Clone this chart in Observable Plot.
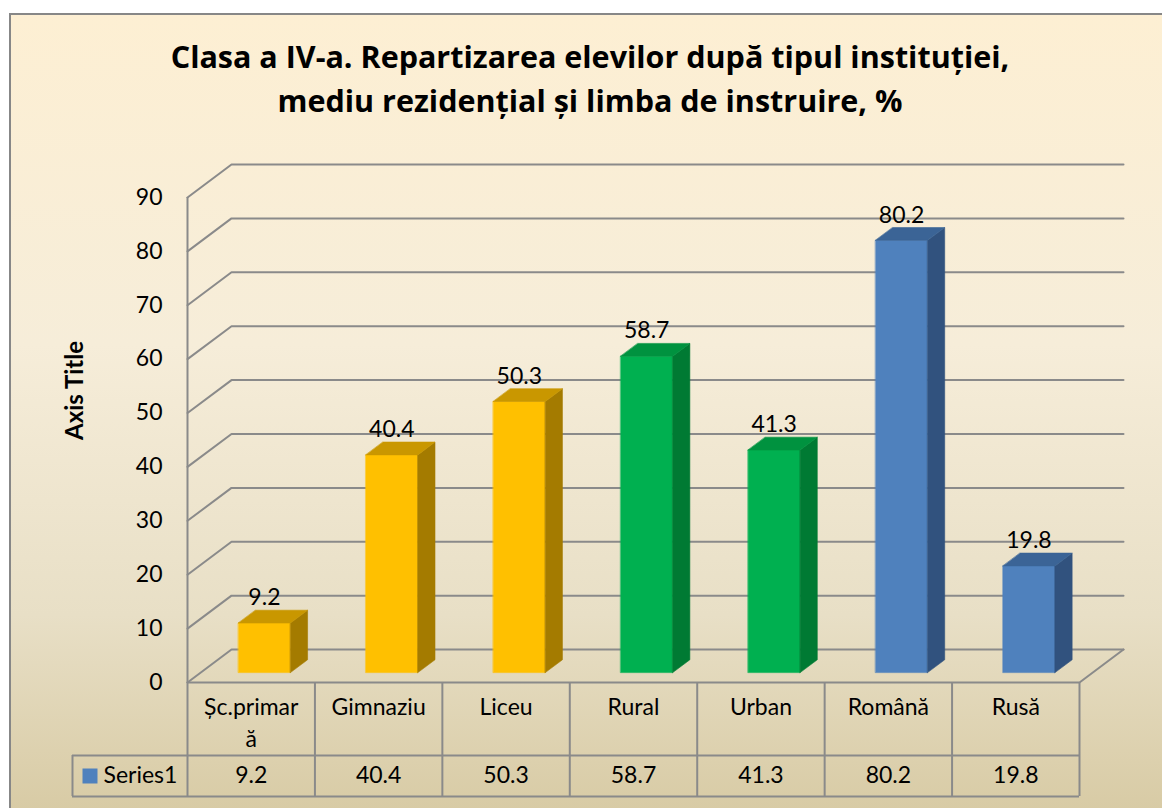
<!DOCTYPE html>
<html>
<head>
<meta charset="utf-8">
<script src="https://cdn.jsdelivr.net/npm/d3@7"></script>
<script src="https://cdn.jsdelivr.net/npm/@observablehq/plot@0.6"></script>
<style>
  html, body { margin: 0; padding: 0; width: 1162px; height: 808px; overflow: hidden; background: #ffffff; font-family: Lato, "Open Sans", sans-serif; }
  #frame { position: absolute; left: 9px; top: 13px; width: 1200px; height: 830px;
    border-left: 2px solid #878787; border-top: 2px solid #878787;
    background: linear-gradient(to bottom, #FDEFD3 0px, #F6EDD9 330px, #E8DFC6 600px, #D8CBA5 795px); }
  #title { position: absolute; left: 0; top: 34px; width: 1180px; text-align: center;
    font-family: "Open Sans", Lato, sans-serif; font-weight: bold; font-size: 30.5px; line-height: 44px; color: #000; }
  #chart { position: absolute; left: 0; top: 0; }
</style>
</head>
<body>
<div id="frame"></div>
<div id="title">Clasa a IV-a. Repartizarea elevilor după tipul instituției,<br>mediu rezidențial și limba de instruire, %</div>
<div id="chart"></div>
<script>
// ---- data ----
const categories = ["Șc.primară", "Gimnaziu", "Liceu", "Rural", "Urban", "Română", "Rusă"];
const tableLabels = ["Șc.primar\nă", "Gimnaziu", "Liceu", "Rural", "Urban", "Română", "Rusă"];
const values = [9.2, 40.4, 50.3, 58.7, 41.3, 80.2, 19.8];
const groups = ["tip", "tip", "tip", "mediu", "mediu", "limba", "limba"];
const yTicks = [0, 10, 20, 30, 40, 50, 60, 70, 80, 90];
const seriesName = "Series1";

// ---- styles ----
const palette = {
  tip:   { front: "#FFC000", side: "#A47B00", top: "#C99700" },
  mediu: { front: "#00B050", side: "#007A33", top: "#00923F" },
  limba: { front: "#4F81BD", side: "#31527E", top: "#3B6496" }
};
const gridColor = "#8a8a8a";

// oblique 3D projection (depth expressed in data units)
const N = categories.length;
const KX = 44 / 127.43;   // x units per unit depth
const KV = 6.11;          // value units per unit depth
const D0 = 0.3, D1 = 0.69, HW = 0.204;
const LEG = -0.9025;      // left edge of the legend column (x units)
const P = (x, v, d) => ({ x: x + d * KX, y: v + d * KV });

// bar faces
const faces = [];
categories.forEach((c, i) => {
  const v = values[i], cx = i + 0.5, col = palette[groups[i]];
  const add = (name, pts, color) => pts.forEach(p => faces.push({ ...p, id: `${i}-${name}`, color }));
  add("front", [P(cx - HW, 0, D0), P(cx + HW, 0, D0), P(cx + HW, v, D0), P(cx - HW, v, D0)], col.front);
  add("side",  [P(cx + HW, 0, D0), P(cx + HW, 0, D1), P(cx + HW, v, D1), P(cx + HW, v, D0)], col.side);
  add("top",   [P(cx - HW, v, D0), P(cx + HW, v, D0), P(cx + HW, v, D1), P(cx - HW, v, D1)], col.top);
});

// gridlines (left wall diagonal + back wall)
const grid = yTicks.flatMap(t => [P(0, t, 0), P(0, t, 1), P(N, t, 1)].map(p => ({ ...p, t })));
const floorEdge = [P(0, 0, 0), P(N, 0, 0), P(N, 0, 1)];

const chart = Plot.plot({
  width: 1162,
  height: 808,
  marginLeft: 187,
  marginRight: 39,
  marginTop: 164,
  marginBottom: 12,
  style: { fontFamily: "Lato, 'Open Sans', sans-serif", fontSize: "23px", color: "#000", background: "transparent", overflow: "visible" },
  x: { domain: [0, N + KX], range: [187, 1123], axis: null },
  y: { domain: [0, 90 + KV], range: [682, 164], axis: null },
  color: { type: "identity" },
  marks: [
    Plot.line(grid, { x: "x", y: "y", z: "t", stroke: gridColor, strokeWidth: 2 }),
    Plot.line(floorEdge, { x: "x", y: "y", stroke: gridColor, strokeWidth: 2 }),
    Plot.ruleX([0], { y1: 0, y2: 90, stroke: gridColor, strokeWidth: 2 }),
    Plot.axisY({ ticks: yTicks, tickSize: 0, tickPadding: 25, fontSize: 23, label: null }),
    Plot.text(["Axis Title"], { frameAnchor: "left", y: 45, dx: -112, rotate: -90, fontWeight: "bold", fontSize: 24 }),
    Plot.line(faces, { x: "x", y: "y", z: "id", fill: "color", stroke: "color", strokeWidth: 0.6, curve: "linear-closed" }),
    Plot.text(values, { x: (d, i) => i + 0.5 + D0 * KX, y: d => d + D1 * KV, dy: -5, lineAnchor: "bottom", text: d => d.toFixed(1), fontSize: 23 }),
    // data table
    Plot.ruleX(d3.range(N + 1), { x: d => d, insetTop: 518, stroke: gridColor, strokeWidth: 2 }),
    Plot.ruleX([LEG], { x: d => d, insetTop: 591, stroke: gridColor, strokeWidth: 2 }),
    Plot.ruleY([0], { x1: LEG, x2: N, dy: 73, stroke: gridColor, strokeWidth: 2 }),
    Plot.ruleY([0], { x1: LEG, x2: N, dy: 114, stroke: gridColor, strokeWidth: 2 }),
    Plot.text(tableLabels, { x: (d, i) => i + 0.5, y: 0, dy: 10, lineAnchor: "top", lineHeight: 1.39, fontSize: 23 }),
    Plot.text(values, { x: (d, i) => i + 0.5, y: 0, dy: 84, lineAnchor: "top", text: d => d.toFixed(1), fontSize: 23 }),
    Plot.dot([seriesName], { x: LEG, y: 0, dx: 17.5, dy: 93.5, symbol: "square", r: 8.46, fill: palette.limba.front, stroke: null }),
    Plot.text([seriesName], { x: LEG, y: 0, dx: 31, dy: 84, textAnchor: "start", lineAnchor: "top", fontSize: 23 })
  ]
});
document.getElementById("chart").appendChild(chart);
</script>
</body>
</html>
